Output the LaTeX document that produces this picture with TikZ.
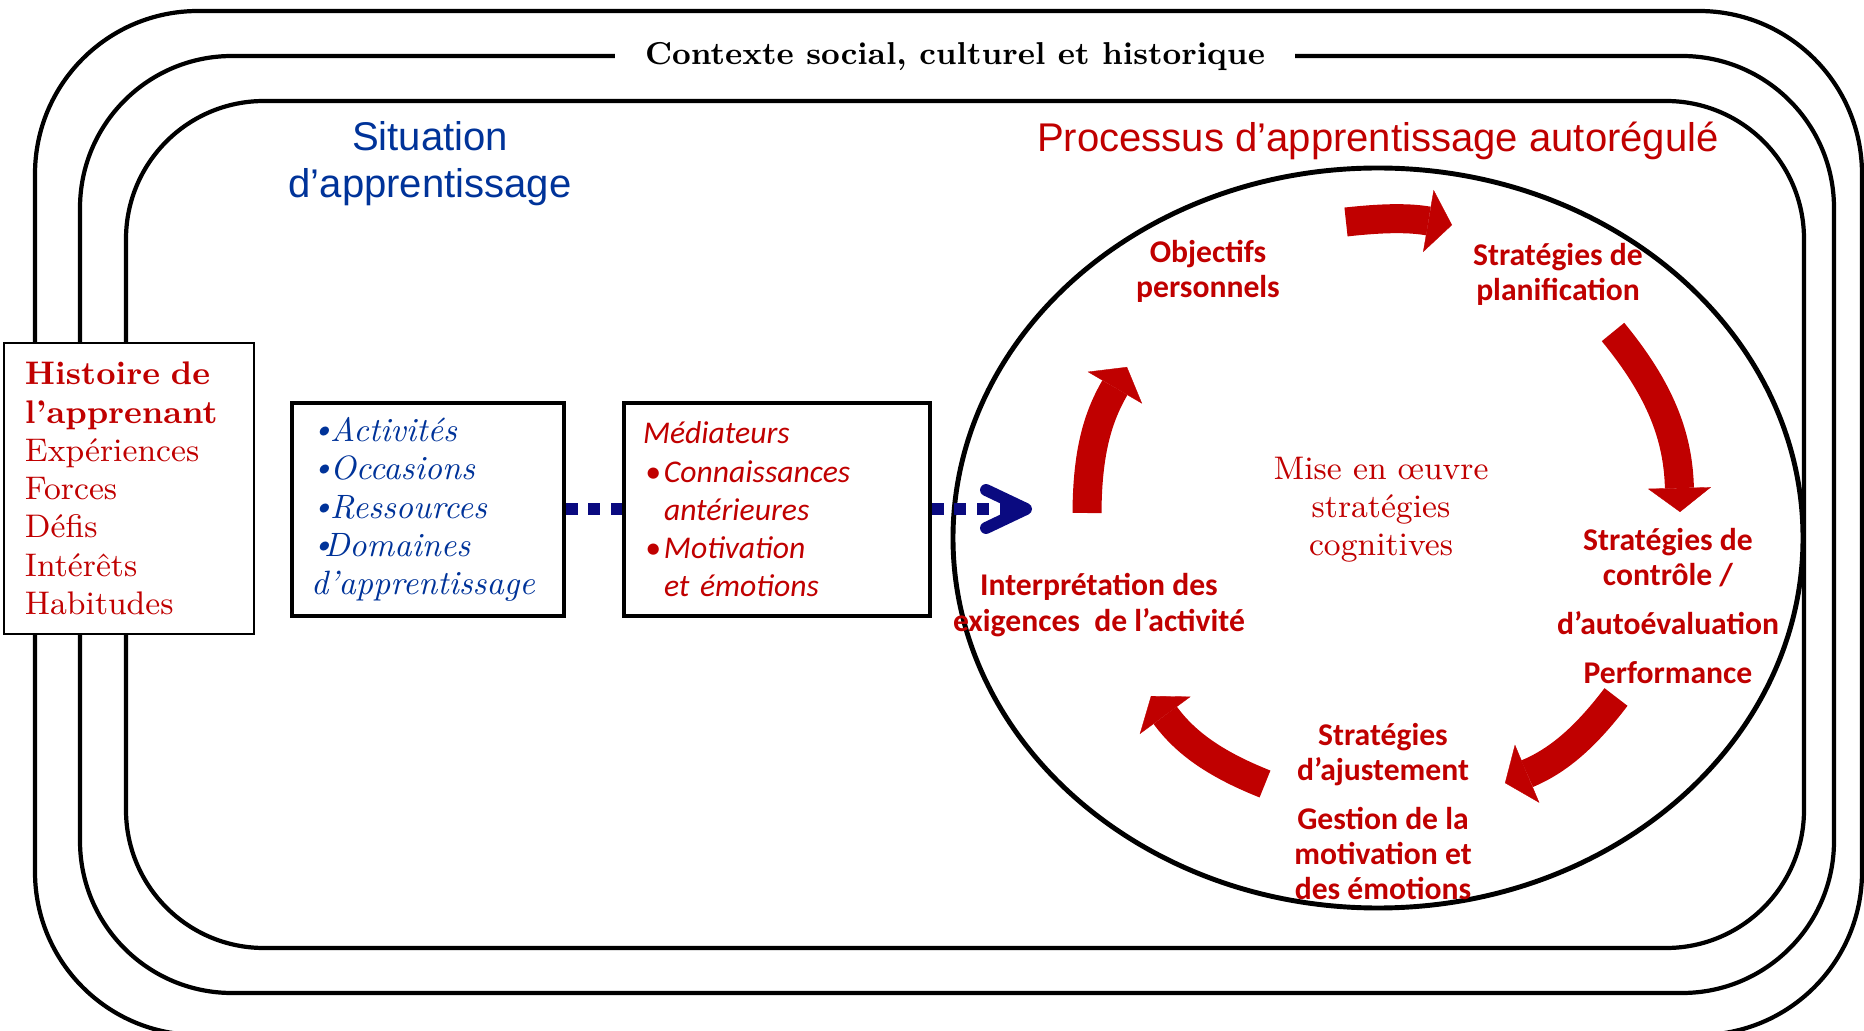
\documentclass[tikz,border=0pt]{standalone}
\usepackage{fontspec}
\newfontfamily\calibrifont{Carlito}
\newfontfamily\arialfont{Liberation Sans}
\usepackage{xcolor}
\usetikzlibrary{arrows.meta}

\definecolor{cred}{RGB}{192,0,0}
\definecolor{cblue}{RGB}{0,51,153}
\definecolor{cnavy}{RGB}{10,10,128}

\newcommand{\bluebul}[1][0.19cm]{\makebox[#1][l]{\raisebox{0.2ex}{\scalebox{0.9}{\textbullet}}}}
\newcommand{\redbul}{\hspace*{0.02cm}\makebox[0.19cm][l]{\textbullet}}

\tikzset{
  ctxline/.style={line width=1.2pt},
  listbox/.style={draw, line width=0.9pt, minimum height=2.13cm, inner xsep=0.19cm, align=left},
  cyclab/.style={text=cred, align=center, font=\calibrifont\bfseries\fontsize{9}{10}\selectfont},
  cycarrow/.style={color=cred, line width=0.29cm, -{Triangle[length=0.24cm, width=0.63cm, line width=0.1pt]}},
  dotlink/.style={draw=cnavy, line width=3.4pt, dash pattern=on 3.4pt off 3.1pt}
}

\begin{document}
\begin{tikzpicture}
  \useasboundingbox (0,0) rectangle (18.64,10.30);

  \draw[ctxline, rounded corners=1.63cm] (0.35,10.19) rectangle (18.62,-0.05);
  \draw[ctxline, rounded corners=1.52cm] (0.80,9.74) rectangle (18.34,0.37);
  \draw[ctxline, rounded corners=1.38cm] (1.26,9.29) rectangle (18.04,0.82);
  \node[fill=white, inner xsep=0.3cm, inner ysep=0.05cm, anchor=base,
        font=\bfseries\fontsize{9}{11}\selectfont] (ctx) at (9.55,9.65)
        {Contexte social, culturel et historique};

  \node[draw, line width=0.6pt, fill=white, text=cred, text width=2.08cm, inner xsep=0.21cm,
        minimum height=2.91cm, align=left, font=\fontsize{9.3}{10.9}\selectfont] (hist) at (1.29,5.415)
        {\textbf{Histoire de}\\ \textbf{l’apprenant}\\ Expériences\\ Forces\\ Défis\\ Intérêts\\ Habitudes};

  \node[text=cblue, align=center, font=\arialfont\fontsize{11.4}{13.4}\selectfont] (sit) at (4.30,8.66)
        {Situation\\d’apprentissage};
  \node[text=cred, font=\arialfont\fontsize{11.4}{13.4}\selectfont] (proc) at (13.78,8.895)
        {Processus d’apprentissage autorégulé};

  \coordinate (cyc) at (13.78,4.92);
  \draw[line width=1.4pt] (cyc) ellipse [x radius=4.25cm, y radius=3.70cm];

  \node[listbox, text width=2.34cm, text=cblue, font=\itshape\fontsize{9.6}{10.9}\selectfont] (act) at (4.28,5.205)
        {\bluebul Activités\\ \bluebul Occasions\\ \bluebul Ressources\\ \bluebul[0.13cm]Domaines\\ d’apprentissage};
  \node[listbox, text width=2.68cm, text=cred, font=\calibrifont\itshape\fontsize{9}{10.9}\selectfont] (med) at (7.77,5.205)
        {Médiateurs\\ \redbul Connaissances\\ \hspace*{0.21cm}antérieures\\
         \redbul Motivation\\ \hspace*{0.21cm}et émotions};

  \coordinate (cycin) at (10.32,5.21);
  \draw[dotlink] (act.east |- cycin) -- (med.west |- cycin);
  \draw[dotlink, -{Straight Barb[length=0.40cm, width=0.38cm, round]}] (med.east |- cycin) -- (cycin);

  \coordinate (o1) at (13.46,8.08);  \coordinate (p1) at (14.52,8.05);
  \coordinate (o2) at (16.13,6.98);  \coordinate (p2) at (16.80,5.18);
  \coordinate (o3) at (16.16,3.33);  \coordinate (p3) at (15.05,2.47);
  \coordinate (o4) at (12.65,2.46);  \coordinate (p4) at (11.51,3.34);
  \coordinate (o5) at (10.87,5.17);  \coordinate (p5) at (11.27,6.63);
  \draw[cycarrow] (o1) to[bend left=8] (p1);
  \draw[cycarrow] (o2) to[bend left=19] (p2);
  \draw[cycarrow] (o3) to[bend left=15] (p3);
  \draw[cycarrow] (o4) to[bend left=16] (p4);
  \draw[cycarrow] (o5) to[bend left=15] (p5);

  \node[cyclab] (obj) at (12.08,7.59) {Objectifs\\personnels};
  \node[cyclab] (plan) at (15.58,7.555) {Stratégies de\\planification};
  \node[cyclab] (ctrl) at (16.68,4.24) {Stratégies de\\contrôle /\\[0.14cm]d’autoévaluation\\[0.14cm]Performance};
  \node[cyclab] (ajus) at (13.83,2.185) {Stratégies\\d’ajustement\\[0.14cm]Gestion de la\\motivation et\\des émotions};
  \node[cyclab] (interp) at (10.99,4.25) {Interprétation des\\exigences\ \ de l’activité};
  \node[text=cred, align=center, font=\fontsize{9.3}{10.8}\selectfont] (mise) at (13.81,5.20)
        {Mise en œuvre\\stratégies\\cognitives};
\end{tikzpicture}
\end{document}
